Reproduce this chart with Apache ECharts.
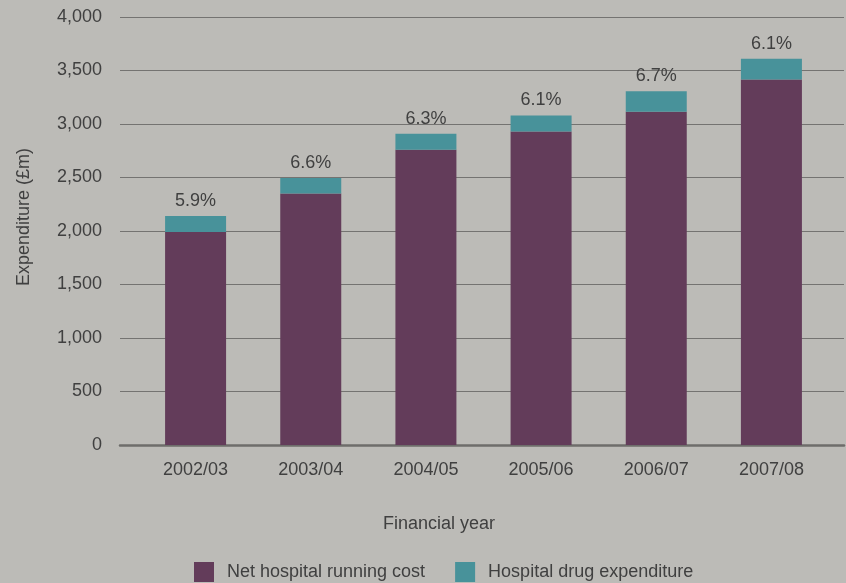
<!DOCTYPE html>
<html>
<head>
<meta charset="utf-8">
<style>
  html, body { margin: 0; padding: 0; background: #bcbbb7; }
  #chart { width: 846px; height: 583px; }
</style>
<script src="https://cdn.jsdelivr.net/npm/echarts@6/dist/echarts.min.js"></script>
</head>
<body>
<div id="chart"></div>
<script>
// Hospital spending by financial year (£m)
const years = ['2002/03', '2003/04', '2004/05', '2005/06', '2006/07', '2007/08'];
const runningCost = [1990, 2350, 2760, 2930, 3115, 3415];
const drugSpend = [150, 145, 150, 150, 190, 195];
const drugShare = ['5.9%', '6.6%', '6.3%', '6.1%', '6.7%', '6.1%'];

const FONT = '"Liberation Sans", Arial, sans-serif';
const TEXT = '#404040';
const PURPLE = '#633c5a';
const TEAL = '#48929a';
const GRIDLINE = '#747371';

const chart = echarts.init(document.getElementById('chart'), null, { renderer: 'canvas' });

chart.setOption({
  backgroundColor: '#bcbbb7',
  animation: false,
  textStyle: { fontFamily: FONT, color: TEXT },
  grid: [
    // full-width frame for the value scale and its gridlines
    { left: 120, right: 2, top: 17, bottom: 138 },
    // bar area
    { left: 138, right: 17, top: 17, bottom: 138 }
  ],
  xAxis: [
    {
      gridIndex: 0, type: 'value', min: 0, max: 1,
      axisLine: { show: true, lineStyle: { color: '#6e6d6b', width: 2.5 } },
      axisTick: { show: false }, axisLabel: { show: false }, splitLine: { show: false }
    },
    {
      gridIndex: 1, type: 'category', data: years,
      axisLine: { show: false }, axisTick: { show: false },
      axisLabel: { margin: 16, fontSize: 18, color: TEXT, fontFamily: FONT }
    }
  ],
  yAxis: [
    {
      gridIndex: 0, type: 'value', min: 0, max: 4000, interval: 500,
      axisLine: { show: false }, axisTick: { show: false },
      axisLabel: {
        margin: 18, fontSize: 18, color: TEXT, fontFamily: FONT,
        formatter: v => v.toLocaleString('en-GB')
      },
      splitLine: { show: true, lineStyle: { color: GRIDLINE, width: 1.2 } }
    },
    {
      gridIndex: 1, type: 'value', min: 0, max: 4000, interval: 500,
      show: false, splitLine: { show: false }
    }
  ],
  legend: {
    left: 194, top: 562, padding: 0,
    itemWidth: 20, itemHeight: 20, itemGap: 30,
    icon: 'rect',
    textStyle: { fontSize: 18, color: TEXT, fontFamily: FONT, padding: [0, 0, 0, 8] },
    data: ['Net hospital running cost', 'Hospital drug expenditure']
  },
  graphic: [
    {
      type: 'text', x: 439, y: 524,
      style: { text: 'Financial year', fontSize: 18, fill: TEXT, fontFamily: FONT,
               textAlign: 'center', textVerticalAlign: 'middle' }
    },
    {
      type: 'text', x: 24, y: 217, rotation: Math.PI / 2,
      style: { text: 'Expenditure (£m)', fontSize: 18, fill: TEXT, fontFamily: FONT,
               textAlign: 'center', textVerticalAlign: 'middle' }
    }
  ],
  series: [
    {
      name: 'Net hospital running cost', type: 'bar', stack: 'total',
      xAxisIndex: 1, yAxisIndex: 1, barWidth: 61,
      itemStyle: { color: PURPLE },
      data: runningCost
    },
    {
      name: 'Hospital drug expenditure', type: 'bar', stack: 'total',
      xAxisIndex: 1, yAxisIndex: 1, barWidth: 61,
      itemStyle: { color: TEAL },
      label: {
        show: true, position: 'top', distance: 6,
        fontSize: 18, color: TEXT, fontFamily: FONT,
        formatter: p => drugShare[p.dataIndex]
      },
      data: drugSpend
    }
  ]
});
</script>
</body>
</html>
